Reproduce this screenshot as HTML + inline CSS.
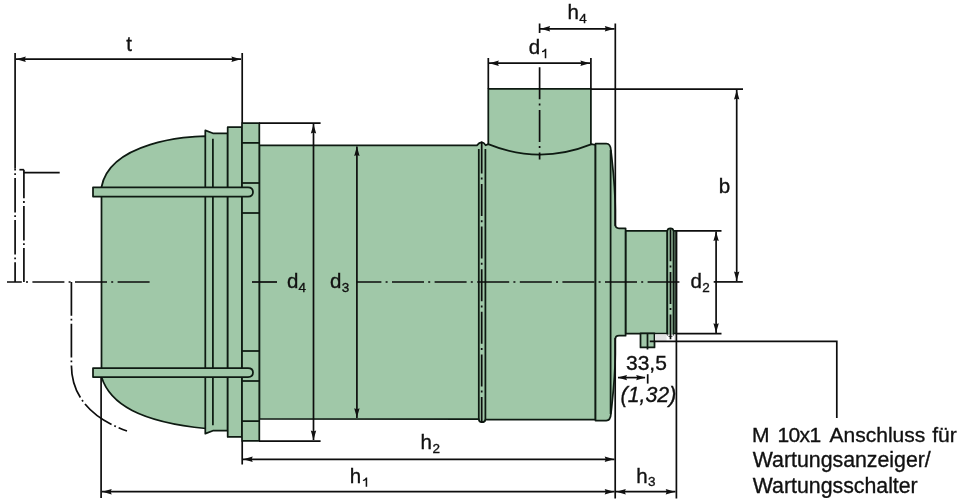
<!DOCTYPE html>
<html><head><meta charset="utf-8">
<style>
html,body{margin:0;padding:0;background:#fff;}
svg{display:block;will-change:transform;}
text{font-family:"Liberation Sans",sans-serif;fill:#111;stroke:#111;stroke-width:0.35;}
</style></head>
<body>
<svg width="963" height="503" viewBox="0 0 963 503">
<g fill="#A0C8A8" stroke="#0e1a12" stroke-width="1.75" stroke-linejoin="round">
  <!-- dome -->
  <path d="M206,136.1 C188,136 110,142 101.5,187 L101.5,377 C110,404 140,422 206,428.5 Z"/>
  <!-- tube d1 -->
  <rect x="488.3" y="88.9" width="102.6" height="70"/>
  <!-- main body -->
  <path d="M259.3,145.4 L476.9,145.4 Q481.7,139.6 485.7,145.3 L488.2,144.1 Q539.6,165 591.7,144.1 L595.5,145 L595.5,419.6 L485.4,419.6 Q485.2,422.2 481.7,422.2 Q478.9,422.2 478.8,419 L259.3,418.8 Z"/>
  <!-- end cap -->
  <path d="M595.5,143.5 L606.2,143.5 Q610.6,143.8 610.9,150 C612.6,166 615.3,186 615.3,210 L615.3,225 Q615.5,228.3 619,228.3 L625.6,228.3 L625.6,335.7 L619,335.7 Q615.5,335.7 615.3,339 L615.3,354 C615.3,378 612.6,398 610.9,414 Q610.6,420.5 606.2,420.5 L595.5,420.5 Z"/>
  <line x1="610.6" y1="150" x2="610.6" y2="414" fill="none"/>
  <!-- pipe -->
  <rect x="625.8" y="230.8" width="41.6" height="102.7"/>
  <rect x="673.5" y="230.8" width="2.8" height="102.8"/>
  <!-- rib of pipe -->
  <path d="M667.3,333.5 L667.3,231 Q667.6,228.3 670.4,228.3 Q673.2,228.3 673.5,231 L673.5,333.5 Q673.2,336 670.4,336 Q667.6,336 667.3,333.5 Z"/>
  <!-- bolt -->
  <rect x="640.5" y="333.4" width="14" height="14"/>
  <!-- ring -->
  <path d="M205.3,130.4 L212.9,133.3 L227.7,133.3 L227.7,430.7 L212.9,430.7 L205.3,433.6 Z"/>
  <line x1="212.9" y1="138.7" x2="212.9" y2="425.3"/>
  <!-- block -->
  <rect x="227.7" y="127.1" width="14.3" height="309.8"/>
  <!-- flange -->
  <rect x="242" y="123.2" width="17.3" height="317.6"/>
  <!-- clamp bands -->
  <path d="M93,187.3 L248,187.3 Q253,187.3 253,192 Q253,196.6 248,196.6 L93,196.6 Z"/>
  <path d="M93,368 L248,368 Q253,368 253,372.5 Q253,377 248,377 L93,377 Z"/>
</g>
<g fill="none" stroke="#0e1a12" stroke-width="1.75">
  <!-- flange lines -->
  <line x1="242" y1="142.9" x2="259.3" y2="142.9"/>
  <line x1="242" y1="183" x2="259.3" y2="183"/>
  <line x1="242" y1="213" x2="259.3" y2="213"/>
  <line x1="242" y1="351" x2="259.3" y2="351"/>
  <line x1="242" y1="381" x2="259.3" y2="381"/>
  <line x1="242" y1="421.1" x2="259.3" y2="421.1"/>
  <!-- rib lines body -->
  <line x1="478.8" y1="149" x2="478.8" y2="419.5"/>
  <line x1="485.4" y1="149" x2="485.4" y2="419.8"/>
  <!-- bolt inner -->
  <line x1="647.5" y1="333.4" x2="647.5" y2="349.5"/>
</g>
<!-- grey zone -->
<rect x="655" y="334.3" width="11.6" height="6.5" fill="#e4e4e4"/>
<rect x="674.2" y="334.3" width="1.4" height="6.5" fill="#e4e4e4"/>
<path d="M667.5,334.3 L673.3,334.3 L673.3,336 L667.5,336 Z" fill="#e4e4e4"/>
<g fill="none" stroke="#0d0d0d" stroke-width="1.7">
  <!-- t dimension -->
  <line x1="15.1" y1="53" x2="15.1" y2="168.5"/>
  <line x1="242.2" y1="53" x2="242.2" y2="123"/>
  <line x1="16" y1="59.2" x2="241" y2="59.2"/>
  <!-- d4 ext -->
  <line x1="259" y1="123.2" x2="320.6" y2="123.2"/>
  <line x1="259" y1="441.1" x2="320.6" y2="441.1"/>
  <line x1="313.5" y1="124" x2="313.5" y2="440"/>
  <!-- d3 -->
  <line x1="356.9" y1="146.5" x2="356.9" y2="418"/>
  <!-- d1 -->
  <line x1="488.3" y1="58" x2="488.3" y2="88.9"/>
  <line x1="590.9" y1="58" x2="590.9" y2="88.9"/>
  <line x1="489" y1="63.2" x2="590" y2="63.2"/>
  <!-- h4 -->
  <line x1="539.6" y1="23.5" x2="539.6" y2="33"/>
  <line x1="615.3" y1="23.5" x2="615.3" y2="226"/>
  <line x1="540" y1="28.8" x2="614.5" y2="28.8"/>
  <!-- b -->
  <line x1="590.9" y1="89.1" x2="743" y2="89.1"/>
  <line x1="736.7" y1="90" x2="736.7" y2="281"/>
  <!-- d2 -->
  <line x1="676.3" y1="230.8" x2="721.5" y2="230.8"/>
  <line x1="676.3" y1="333.6" x2="721.5" y2="333.6"/>
  <line x1="716.1" y1="231.5" x2="716.1" y2="333"/>
  <line x1="713.7" y1="281.9" x2="742.8" y2="281.9"/>
  <!-- h1/h2/h3 ext -->
  <line x1="101.1" y1="377" x2="101.1" y2="498"/>
  <line x1="242.2" y1="441" x2="242.2" y2="464.5"/>
  <line x1="615.2" y1="338" x2="615.2" y2="498.5"/>
  <line x1="676.4" y1="230.8" x2="676.4" y2="498.5"/>
  <line x1="243" y1="459.3" x2="614.5" y2="459.3"/>
  <line x1="102" y1="491.7" x2="614.5" y2="491.7"/>
  <line x1="616" y1="491.7" x2="675.5" y2="491.7"/>
  <!-- 33,5 -->
  <line x1="618" y1="377.6" x2="645" y2="377.6"/>
  <line x1="647.7" y1="374.2" x2="647.7" y2="383.6"/>
  <!-- leader -->
  <polyline points="649.8,341.4 836.8,341.4 836.8,418"/>
  <!-- left phantom -->
  <line x1="19.4" y1="169.7" x2="23.9" y2="169.7"/>
  <line x1="23.9" y1="172.6" x2="59.7" y2="172.6"/>
</g>
<g fill="none" stroke="#0d0d0d" stroke-width="1.7" stroke-dasharray="32 4.2 2 4.4">
  <line x1="7" y1="282" x2="150" y2="282" stroke-dashoffset="17.2"/>
  <line x1="252" y1="282" x2="277" y2="282"/>
  <line x1="356.6" y1="282" x2="679.4" y2="282" stroke-dashoffset="7.2"/>
  <line x1="539.6" y1="67.3" x2="539.6" y2="159.5"/>
  <line x1="481.7" y1="141.4" x2="481.7" y2="422.6"/>
  <line x1="670.5" y1="226.3" x2="670.5" y2="339.3" stroke-dashoffset="-3"/>
</g>
<g fill="none" stroke="#0d0d0d" stroke-width="1.7" stroke-dasharray="34.5 2.8 1.8 3">
  <line x1="15.1" y1="168.4" x2="15.1" y2="282" stroke-dashoffset="32.5"/>
  <line x1="23.9" y1="169.7" x2="23.9" y2="282" stroke-dashoffset="5.9"/>
</g>
<g fill="none" stroke="#0d0d0d" stroke-width="1.7" stroke-dasharray="33.8 3 1.8 3.1">
  <path d="M71.4,282 L71.4,365 C71.4,395 90,418 127,431"/>
</g>
<!-- arrowheads -->
<path d="M0.4,0 L9.8,-2.7 L8.8,0 L9.8,2.7 Z" fill="#111" transform="translate(16,59.2)"/>
<path d="M0.4,0 L9.8,-2.7 L8.8,0 L9.8,2.7 Z" fill="#111" transform="translate(241.2,59.2) rotate(180)"/>
<path d="M0.4,0 L9.8,-2.7 L8.8,0 L9.8,2.7 Z" fill="#111" transform="translate(313.5,123.8) rotate(90)"/>
<path d="M0.4,0 L9.8,-2.7 L8.8,0 L9.8,2.7 Z" fill="#111" transform="translate(313.5,440.4) rotate(-90)"/>
<path d="M0.4,0 L9.8,-2.7 L8.8,0 L9.8,2.7 Z" fill="#111" transform="translate(356.9,146.2) rotate(90)"/>
<path d="M0.4,0 L9.8,-2.7 L8.8,0 L9.8,2.7 Z" fill="#111" transform="translate(356.9,418.1) rotate(-90)"/>
<path d="M0.4,0 L9.8,-2.7 L8.8,0 L9.8,2.7 Z" fill="#111" transform="translate(489,63.2)"/>
<path d="M0.4,0 L9.8,-2.7 L8.8,0 L9.8,2.7 Z" fill="#111" transform="translate(590.2,63.2) rotate(180)"/>
<path d="M0.4,0 L9.8,-2.7 L8.8,0 L9.8,2.7 Z" fill="#111" transform="translate(540.3,28.8)"/>
<path d="M0.4,0 L9.8,-2.7 L8.8,0 L9.8,2.7 Z" fill="#111" transform="translate(614.6,28.8) rotate(180)"/>
<path d="M0.4,0 L9.8,-2.7 L8.8,0 L9.8,2.7 Z" fill="#111" transform="translate(736.7,89.8) rotate(90)"/>
<path d="M0.4,0 L9.8,-2.7 L8.8,0 L9.8,2.7 Z" fill="#111" transform="translate(736.7,281.2) rotate(-90)"/>
<path d="M0.4,0 L9.8,-2.7 L8.8,0 L9.8,2.7 Z" fill="#111" transform="translate(716.1,231.3) rotate(90)"/>
<path d="M0.4,0 L9.8,-2.7 L8.8,0 L9.8,2.7 Z" fill="#111" transform="translate(716.1,333.1) rotate(-90)"/>
<path d="M0.4,0 L9.8,-2.7 L8.8,0 L9.8,2.7 Z" fill="#111" transform="translate(242.9,459.3)"/>
<path d="M0.4,0 L9.8,-2.7 L8.8,0 L9.8,2.7 Z" fill="#111" transform="translate(614.5,459.3) rotate(180)"/>
<path d="M0.4,0 L9.8,-2.7 L8.8,0 L9.8,2.7 Z" fill="#111" transform="translate(101.9,491.7)"/>
<path d="M0.4,0 L9.8,-2.7 L8.8,0 L9.8,2.7 Z" fill="#111" transform="translate(614.5,491.7) rotate(180)"/>
<path d="M0.4,0 L9.8,-2.7 L8.8,0 L9.8,2.7 Z" fill="#111" transform="translate(616,491.7)"/>
<path d="M0.4,0 L9.8,-2.7 L8.8,0 L9.8,2.7 Z" fill="#111" transform="translate(675.5,491.7) rotate(180)"/>
<path d="M0.4,0 L9.8,-2.7 L8.8,0 L9.8,2.7 Z" fill="#111" transform="translate(617.2,377.6)"/>
<path d="M0.4,0 L9.8,-2.7 L8.8,0 L9.8,2.7 Z" fill="#111" transform="translate(646,377.6) rotate(180)"/>
<!-- labels -->
<g font-size="20.5" opacity="0.999">
  <text x="126.3" y="51">t</text>
  <text x="528.8" y="54">d</text><path d="M544.75,58.20 L546.30,58.20 L546.30,48.80 L545.05,48.80 Q544.35,50.70 542.00,51.10 L542.00,52.30 Q543.95,52.00 544.75,51.20 Z" fill="#111"/>
  <text x="567.4" y="19">h</text><text x="579.3" y="22.6" font-size="13.5">4</text>
  <text x="718.8" y="193">b</text>
  <text x="287" y="288">d</text><text x="298.6" y="291.8" font-size="13.5">4</text>
  <text x="330" y="288">d</text><text x="341.8" y="292" font-size="13.5">3</text>
  <text x="690.5" y="288">d</text><text x="702.3" y="291.8" font-size="13.5">2</text>
  <text x="420.5" y="448.6">h</text><text x="432.5" y="453" font-size="13.5">2</text>
  <text x="349.8" y="483">h</text><path d="M365.65,486.80 L367.20,486.80 L367.20,477.60 L365.95,477.60 Q365.25,479.50 362.90,479.90 L362.90,481.10 Q364.85,480.80 365.65,480.00 Z" fill="#111"/>
  <text x="636.3" y="483">h</text><text x="648" y="486.4" font-size="13.5">3</text>
  <text x="626" y="370.3" font-size="21">33,5</text>
  <text x="620.6" y="402.2" font-size="21.3" font-style="italic">(1,32)</text>
  <text y="441.6" font-size="21"><tspan x="752.1">M</tspan><tspan x="777.4" letter-spacing="-0.6">10x1</tspan><tspan x="829.6">Anschluss</tspan><tspan x="932.2">für</tspan></text>
  <text x="752.8" y="467.3" font-size="21.3">Wartungsanzeiger/</text>
  <text x="752.8" y="492.5" font-size="21.3">Wartungsschalter</text>
</g>
</svg>
</body></html>
